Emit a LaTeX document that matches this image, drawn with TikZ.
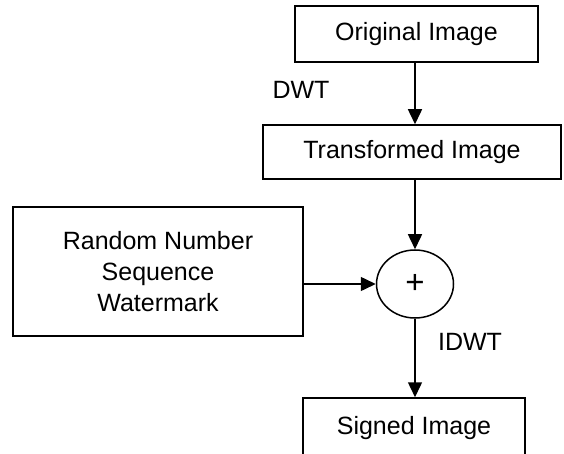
\documentclass[tikz,border=0pt]{standalone}
\usepackage{fontspec}
\setmainfont{Liberation Sans}
\usetikzlibrary{shapes.geometric,arrows.meta}
\begin{document}
\begin{tikzpicture}[x=1bp,y=-1bp,
  font=\fontsize{25bp}{31bp}\selectfont,
  box/.style={draw,line width=1.5bp,rectangle,inner sep=0pt,align=center},
  sumnode/.style={draw,line width=1.5bp,ellipse,inner sep=0pt,minimum width=77bp,minimum height=68bp,font=\fontsize{33bp}{33bp}\selectfont},
  lbl/.style={inner sep=0pt},
  arr/.style={line width=1.5bp,-{Triangle[length=15bp,width=14bp]}}]
\useasboundingbox (0,0) rectangle (564,454);
\clip (0,0) rectangle (564,454);
\node[box,minimum width=243bp,minimum height=56bp] (orig) at (416.5,34) {Original Image};
\node[box,minimum width=298bp,minimum height=54bp] (trans) at (412,152) {Transformed Image};
\node[box,minimum width=290bp,minimum height=129bp] (rand) at (158,271.5) {Random Number\\Sequence\\Watermark};
\node[sumnode] (sum) at (415,284) {+};
\node[box,minimum width=222bp,minimum height=60bp] (signed) at (414,428) {Signed Image};
\node[lbl] (dwt) at (301,90) {DWT};
\node[lbl] (idwt) at (470,342) {IDWT};
\draw[arr] (orig.south -| sum.north) -- (trans.north -| sum.north);
\draw[arr] (trans.south -| sum.north) -- (sum.north);
\draw[arr] (rand.east |- sum.west) -- (sum.west);
\draw[arr] (sum.south) -- (signed.north -| sum.south);
\end{tikzpicture}
\end{document}
